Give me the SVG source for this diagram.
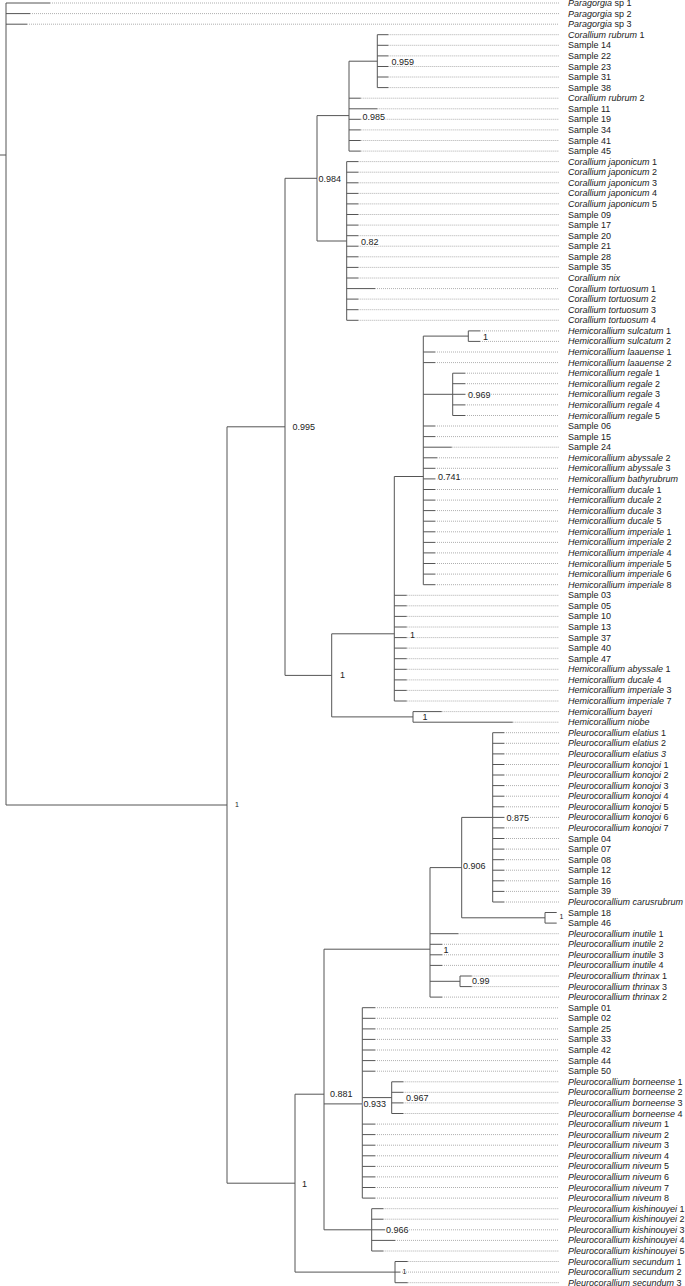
<svg xmlns="http://www.w3.org/2000/svg" width="685" height="1286" viewBox="0 0 685 1286">
<style>
.b{stroke:#555;stroke-width:1;fill:none}
.d{stroke:#9a9a9a;stroke-width:0.8;stroke-dasharray:1 1;fill:none}
text{font-family:"Liberation Sans",Arial,sans-serif;font-size:9px;fill:#222}
.i{font-style:italic}
.n{paint-order:stroke;stroke:#fff;stroke-width:2px;stroke-linejoin:round}
.s{font-size:7px}
</style>
<rect width="685" height="1286" fill="#fff"/>
<g id="connectors">
<path class="d" d="M50 3H559M30 13.6H559M27 24.2H559M388.3 34.7H559M388.3 45.3H559M388.3 55.9H559M388.3 66.5H559M388.3 77H559M388.3 87.6H559M360.7 98.2H559M377.3 108.8H559M360.7 119.3H559M360.7 129.9H559M360.7 140.5H559M360.7 151.1H559M358.3 161.6H559M358.3 172.2H559M358.3 182.8H559M358.3 193.4H559M358.3 203.9H559M358.3 214.5H559M358.3 225.1H559M358.3 235.7H559M358.3 246.2H559M358.3 256.8H559M358.3 267.4H559M358.3 278H559M375 288.6H559M358.3 299.1H559M358.3 309.7H559M358.3 320.3H559M480 330.9H559M480 341.4H559M435 352H559M435 362.6H559M465 373.2H559M465 383.7H559M465 394.3H559M465 404.9H559M465 415.5H559M435 426H559M435 436.6H559M451.7 447.2H559M437 457.8H559M435 468.3H559M435 478.9H559M435 489.5H559M435 500.1H559M435 510.6H559M435 521.2H559M435 531.8H559M435 542.4H559M435 552.9H559M435 563.5H559M435 574.1H559M435 584.7H559M406.7 595.3H559M406.7 605.8H559M406.7 616.4H559M406.7 627H559M406.7 637.6H559M406.7 648.1H559M406.7 658.7H559M406.7 669.3H559M406.7 679.9H559M406.7 690.4H559M406.7 701H559M441.7 711.6H559M512.7 722.2H559M504 732.7H559M504 743.3H559M504 753.9H559M504 764.5H559M504 775H559M504 785.6H559M504 796.2H559M504 806.8H559M504 817.4H559M504 827.9H559M504 838.5H559M504 849.1H559M504 859.7H559M504 870.2H559M504 880.8H559M504 891.4H559M504 902H559M458.3 933.7H559M442 944.3H559M442 954.8H559M442 965.4H559M471.7 976H559M471.7 986.6H559M442 997.1H559M375 1007.7H559M375 1018.3H559M375 1028.9H559M375 1039.4H559M375 1050H559M375 1060.6H559M375 1071.2H559M403.3 1081.8H559M403.3 1092.3H559M403.3 1102.9H559M403.3 1113.5H559M375 1124.1H559M375 1134.6H559M375 1145.2H559M375 1155.8H559M375 1166.4H559M375 1176.9H559M375 1187.5H559M375 1198.1H559M383.3 1208.7H559M383.3 1219.2H559M385 1229.8H559M395 1240.4H559M383.3 1251H559M407.7 1261.5H559M400 1272.1H559M407.7 1282.7H559"/>
<path class="b" d="M0 155H6M6 3V805M6 3H50M6 13.6H30M6 24.2H27M6 805H227
M227 426.8V1183.2M227 426.8H285M227 1183.2H295
M285 178.3V675.4M285 178.3H317M285 675.4H331.7
M317 115.6V241M317 115.6H349M317 241H346.7
M349 61.2V151.1M349 61.2H377.3M349 98.2H360.7M349 108.8H377.3M349 119.3H360.7M349 129.9H360.7M349 140.5H360.7M349 151.1H360.7
M377.3 34.7V87.6M377.3 34.7H388.3M377.3 45.3H388.3M377.3 55.9H388.3M377.3 66.5H388.3M377.3 77H388.3M377.3 87.6H388.3
M346.7 161.6V320.3M346.7 161.6H358.3M346.7 172.2H358.3M346.7 182.8H358.3M346.7 193.4H358.3M346.7 203.9H358.3M346.7 214.5H358.3M346.7 225.1H358.3M346.7 235.7H358.3M346.7 246.2H358.3M346.7 256.8H358.3M346.7 267.4H358.3M346.7 278H358.3M346.7 288.6H375M346.7 299.1H358.3M346.7 309.7H358.3M346.7 320.3H358.3
M331.7 633.8V716.9M331.7 633.8H394.3M331.7 716.9H413
M394.3 476.5V701M394.3 476.5H423.3M394.3 595.3H406.7M394.3 605.8H406.7M394.3 616.4H406.7M394.3 627H406.7M394.3 637.6H406.7M394.3 648.1H406.7M394.3 658.7H406.7M394.3 669.3H406.7M394.3 679.9H406.7M394.3 690.4H406.7M394.3 701H406.7
M423.3 336.1V584.7M423.3 336.1H468.3M423.3 394.3H452.7M423.3 352H435M423.3 362.6H435M423.3 426H435M423.3 436.6H435M423.3 447.2H451.7M423.3 457.8H437M423.3 468.3H435M423.3 478.9H435M423.3 489.5H435M423.3 500.1H435M423.3 510.6H435M423.3 521.2H435M423.3 531.8H435M423.3 542.4H435M423.3 552.9H435M423.3 563.5H435M423.3 574.1H435M423.3 584.7H435
M468.3 330.9V341.4M468.3 330.9H480M468.3 341.4H480
M452.7 373.2V415.5M452.7 373.2H465M452.7 383.7H465M452.7 394.3H465M452.7 404.9H465M452.7 415.5H465
M413 711.6V722.2M413 711.6H441.7M413 722.2H512.7
M295 1094.2V1272.1M295 1094.2H324M295 1272.1H395
M324 949.2V1229.8M324 949.2H430M324 1103.9H362.3M324 1229.8H371.7
M430 867.6V997.1M430 867.6H461.7M430 933.7H458.3M430 944.3H442M430 954.8H442M430 965.4H442M430 981.3H460M430 997.1H442
M461.7 817.4V917.8M461.7 817.4H492.7M461.7 917.8H545
M492.7 732.7V902M492.7 732.7H504M492.7 743.3H504M492.7 753.9H504M492.7 764.5H504M492.7 775H504M492.7 785.6H504M492.7 796.2H504M492.7 806.8H504M492.7 817.4H504M492.7 827.9H504M492.7 838.5H504M492.7 849.1H504M492.7 859.7H504M492.7 870.2H504M492.7 880.8H504M492.7 891.4H504M492.7 902H504
M545 912.5V923.1M545 912.5H556.7M545 923.1H556.7
M460 976V986.6M460 976H471.7M460 986.6H471.7
M362.3 1007.7V1198.1M362.3 1097.6H391.7M362.3 1007.7H375M362.3 1018.3H375M362.3 1028.9H375M362.3 1039.4H375M362.3 1050H375M362.3 1060.6H375M362.3 1071.2H375M362.3 1124.1H375M362.3 1134.6H375M362.3 1145.2H375M362.3 1155.8H375M362.3 1166.4H375M362.3 1176.9H375M362.3 1187.5H375M362.3 1198.1H375
M391.7 1081.8V1113.5M391.7 1081.8H403.3M391.7 1092.3H403.3M391.7 1102.9H403.3M391.7 1113.5H403.3
M371.7 1208.7V1251M371.7 1208.7H383.3M371.7 1219.2H383.3M371.7 1229.8H385M371.7 1240.4H395M371.7 1251H383.3
M395 1261.5V1282.7M395 1261.5H407.7M395 1272.1H400M395 1282.7H407.7"/>
</g>
<g id="support-labels">
<g id="node-root"><text class="s" x="235" y="806.5">1</text></g>
<g id="node-0995"><text class="n" x="292.5" y="430.2">0.995</text></g>
<g id="node-0984"><text class="n" x="318.5" y="181.5">0.984</text></g>
<g id="node-0985"><text class="n" x="362.5" y="119.7">0.985</text></g>
<g id="node-0959"><text class="n" x="391.5" y="65">0.959</text></g>
<g id="node-082"><text class="n" x="361" y="244.7">0.82</text></g>
<g id="node-hemi"><text class="n" x="340" y="678.2">1</text></g>
<g id="node-hemi-big"><text class="n" x="410" y="637.5">1</text></g>
<g id="node-0741"><text class="n" x="438" y="479.9">0.741</text></g>
<g id="node-sulcatum"><text class="n" x="483" y="339.7">1</text></g>
<g id="node-0969"><text class="n" x="468" y="397.5">0.969</text></g>
<g id="node-bayeri"><text class="n" x="422.5" y="720.2">1</text></g>
<g id="node-pleuro"><text class="n" x="302" y="1186.5">1</text></g>
<g id="node-0881"><text class="n" x="330" y="1096.7">0.881</text></g>
<g id="node-upper"><text class="n" x="443.5" y="952.5">1</text></g>
<g id="node-0906"><text class="n" x="463" y="869.2">0.906</text></g>
<g id="node-0875"><text class="n" x="506.5" y="820.9">0.875</text></g>
<g id="node-s18"><text class="s" x="559.5" y="919">1</text></g>
<g id="node-099"><text class="n" x="472" y="984.2">0.99</text></g>
<g id="node-0933"><text class="n" x="363.5" y="1107.2">0.933</text></g>
<g id="node-0967"><text class="n" x="406" y="1100.9">0.967</text></g>
<g id="node-0966"><text class="n" x="386" y="1233">0.966</text></g>
<g id="node-secundum"><text class="s" x="402.5" y="1273.5">1</text></g>
</g>
<g id="leaves">
<g id="leaf-000"><text x="568" y="6"><tspan class="i">Paragorgia</tspan> sp 1</text></g>
<g id="leaf-001"><text x="568" y="16.6"><tspan class="i">Paragorgia</tspan> sp 2</text></g>
<g id="leaf-002"><text x="568" y="27.2"><tspan class="i">Paragorgia</tspan> sp 3</text></g>
<g id="leaf-003"><text x="568" y="37.7"><tspan class="i">Corallium rubrum</tspan> 1</text></g>
<g id="leaf-004"><text x="568" y="48.3">Sample 14</text></g>
<g id="leaf-005"><text x="568" y="58.9">Sample 22</text></g>
<g id="leaf-006"><text x="568" y="69.5">Sample 23</text></g>
<g id="leaf-007"><text x="568" y="80">Sample 31</text></g>
<g id="leaf-008"><text x="568" y="90.6">Sample 38</text></g>
<g id="leaf-009"><text x="568" y="101.2"><tspan class="i">Corallium rubrum</tspan> 2</text></g>
<g id="leaf-010"><text x="568" y="111.8">Sample 11</text></g>
<g id="leaf-011"><text x="568" y="122.3">Sample 19</text></g>
<g id="leaf-012"><text x="568" y="132.9">Sample 34</text></g>
<g id="leaf-013"><text x="568" y="143.5">Sample 41</text></g>
<g id="leaf-014"><text x="568" y="154.1">Sample 45</text></g>
<g id="leaf-015"><text x="568" y="164.6"><tspan class="i">Corallium japonicum</tspan> 1</text></g>
<g id="leaf-016"><text x="568" y="175.2"><tspan class="i">Corallium japonicum</tspan> 2</text></g>
<g id="leaf-017"><text x="568" y="185.8"><tspan class="i">Corallium japonicum</tspan> 3</text></g>
<g id="leaf-018"><text x="568" y="196.4"><tspan class="i">Corallium japonicum</tspan> 4</text></g>
<g id="leaf-019"><text x="568" y="206.9"><tspan class="i">Corallium japonicum</tspan> 5</text></g>
<g id="leaf-020"><text x="568" y="217.5">Sample 09</text></g>
<g id="leaf-021"><text x="568" y="228.1">Sample 17</text></g>
<g id="leaf-022"><text x="568" y="238.7">Sample 20</text></g>
<g id="leaf-023"><text x="568" y="249.2">Sample 21</text></g>
<g id="leaf-024"><text x="568" y="259.8">Sample 28</text></g>
<g id="leaf-025"><text x="568" y="270.4">Sample 35</text></g>
<g id="leaf-026"><text x="568" y="281"><tspan class="i">Corallium nix</tspan></text></g>
<g id="leaf-027"><text x="568" y="291.6"><tspan class="i">Corallium tortuosum</tspan> 1</text></g>
<g id="leaf-028"><text x="568" y="302.1"><tspan class="i">Corallium tortuosum</tspan> 2</text></g>
<g id="leaf-029"><text x="568" y="312.7"><tspan class="i">Corallium tortuosum</tspan> 3</text></g>
<g id="leaf-030"><text x="568" y="323.3"><tspan class="i">Corallium tortuosum</tspan> 4</text></g>
<g id="leaf-031"><text x="568" y="333.9"><tspan class="i">Hemicorallium sulcatum</tspan> 1</text></g>
<g id="leaf-032"><text x="568" y="344.4"><tspan class="i">Hemicorallium sulcatum</tspan> 2</text></g>
<g id="leaf-033"><text x="568" y="355"><tspan class="i">Hemicorallium laauense</tspan> 1</text></g>
<g id="leaf-034"><text x="568" y="365.6"><tspan class="i">Hemicorallium laauense</tspan> 2</text></g>
<g id="leaf-035"><text x="568" y="376.2"><tspan class="i">Hemicorallium regale</tspan> 1</text></g>
<g id="leaf-036"><text x="568" y="386.7"><tspan class="i">Hemicorallium regale</tspan> 2</text></g>
<g id="leaf-037"><text x="568" y="397.3"><tspan class="i">Hemicorallium regale</tspan> 3</text></g>
<g id="leaf-038"><text x="568" y="407.9"><tspan class="i">Hemicorallium regale</tspan> 4</text></g>
<g id="leaf-039"><text x="568" y="418.5"><tspan class="i">Hemicorallium regale</tspan> 5</text></g>
<g id="leaf-040"><text x="568" y="429">Sample 06</text></g>
<g id="leaf-041"><text x="568" y="439.6">Sample 15</text></g>
<g id="leaf-042"><text x="568" y="450.2">Sample 24</text></g>
<g id="leaf-043"><text x="568" y="460.8"><tspan class="i">Hemicorallium abyssale</tspan> 2</text></g>
<g id="leaf-044"><text x="568" y="471.3"><tspan class="i">Hemicorallium abyssale</tspan> 3</text></g>
<g id="leaf-045"><text x="568" y="481.9"><tspan class="i">Hemicorallium bathyrubrum</tspan></text></g>
<g id="leaf-046"><text x="568" y="492.5"><tspan class="i">Hemicorallium ducale</tspan> 1</text></g>
<g id="leaf-047"><text x="568" y="503.1"><tspan class="i">Hemicorallium ducale</tspan> 2</text></g>
<g id="leaf-048"><text x="568" y="513.6"><tspan class="i">Hemicorallium ducale</tspan> 3</text></g>
<g id="leaf-049"><text x="568" y="524.2"><tspan class="i">Hemicorallium ducale</tspan> 5</text></g>
<g id="leaf-050"><text x="568" y="534.8"><tspan class="i">Hemicorallium imperiale</tspan> 1</text></g>
<g id="leaf-051"><text x="568" y="545.4"><tspan class="i">Hemicorallium imperiale</tspan> 2</text></g>
<g id="leaf-052"><text x="568" y="555.9"><tspan class="i">Hemicorallium imperiale</tspan> 4</text></g>
<g id="leaf-053"><text x="568" y="566.5"><tspan class="i">Hemicorallium imperiale</tspan> 5</text></g>
<g id="leaf-054"><text x="568" y="577.1"><tspan class="i">Hemicorallium imperiale</tspan> 6</text></g>
<g id="leaf-055"><text x="568" y="587.7"><tspan class="i">Hemicorallium imperiale</tspan> 8</text></g>
<g id="leaf-056"><text x="568" y="598.3">Sample 03</text></g>
<g id="leaf-057"><text x="568" y="608.8">Sample 05</text></g>
<g id="leaf-058"><text x="568" y="619.4">Sample 10</text></g>
<g id="leaf-059"><text x="568" y="630">Sample 13</text></g>
<g id="leaf-060"><text x="568" y="640.6">Sample 37</text></g>
<g id="leaf-061"><text x="568" y="651.1">Sample 40</text></g>
<g id="leaf-062"><text x="568" y="661.7">Sample 47</text></g>
<g id="leaf-063"><text x="568" y="672.3"><tspan class="i">Hemicorallium abyssale</tspan> 1</text></g>
<g id="leaf-064"><text x="568" y="682.9"><tspan class="i">Hemicorallium ducale</tspan> 4</text></g>
<g id="leaf-065"><text x="568" y="693.4"><tspan class="i">Hemicorallium imperiale</tspan> 3</text></g>
<g id="leaf-066"><text x="568" y="704"><tspan class="i">Hemicorallium imperiale</tspan> 7</text></g>
<g id="leaf-067"><text x="568" y="714.6"><tspan class="i">Hemicorallium bayeri</tspan></text></g>
<g id="leaf-068"><text x="568" y="725.2"><tspan class="i">Hemicorallium niobe</tspan></text></g>
<g id="leaf-069"><text x="568" y="735.7"><tspan class="i">Pleurocorallium elatius</tspan> 1</text></g>
<g id="leaf-070"><text x="568" y="746.3"><tspan class="i">Pleurocorallium elatius</tspan> 2</text></g>
<g id="leaf-071"><text x="568" y="756.9"><tspan class="i">Pleurocorallium elatius 3</tspan></text></g>
<g id="leaf-072"><text x="568" y="767.5"><tspan class="i">Pleurocorallium konojoi</tspan> 1</text></g>
<g id="leaf-073"><text x="568" y="778"><tspan class="i">Pleurocorallium konojoi</tspan> 2</text></g>
<g id="leaf-074"><text x="568" y="788.6"><tspan class="i">Pleurocorallium konojoi</tspan> 3</text></g>
<g id="leaf-075"><text x="568" y="799.2"><tspan class="i">Pleurocorallium konojoi</tspan> 4</text></g>
<g id="leaf-076"><text x="568" y="809.8"><tspan class="i">Pleurocorallium konojoi</tspan> 5</text></g>
<g id="leaf-077"><text x="568" y="820.4"><tspan class="i">Pleurocorallium konojoi</tspan> 6</text></g>
<g id="leaf-078"><text x="568" y="830.9"><tspan class="i">Pleurocorallium konojoi</tspan> 7</text></g>
<g id="leaf-079"><text x="568" y="841.5">Sample 04</text></g>
<g id="leaf-080"><text x="568" y="852.1">Sample 07</text></g>
<g id="leaf-081"><text x="568" y="862.7">Sample 08</text></g>
<g id="leaf-082"><text x="568" y="873.2">Sample 12</text></g>
<g id="leaf-083"><text x="568" y="883.8">Sample 16</text></g>
<g id="leaf-084"><text x="568" y="894.4">Sample 39</text></g>
<g id="leaf-085"><text x="568" y="905"><tspan class="i">Pleurocorallium carusrubrum</tspan></text></g>
<g id="leaf-086"><text x="568" y="915.5">Sample 18</text></g>
<g id="leaf-087"><text x="568" y="926.1">Sample 46</text></g>
<g id="leaf-088"><text x="568" y="936.7"><tspan class="i">Pleurocorallium inutile</tspan> 1</text></g>
<g id="leaf-089"><text x="568" y="947.3"><tspan class="i">Pleurocorallium inutile</tspan> 2</text></g>
<g id="leaf-090"><text x="568" y="957.8"><tspan class="i">Pleurocorallium inutile</tspan> 3</text></g>
<g id="leaf-091"><text x="568" y="968.4"><tspan class="i">Pleurocorallium inutile</tspan> 4</text></g>
<g id="leaf-092"><text x="568" y="979"><tspan class="i">Pleurocorallium thrinax</tspan> 1</text></g>
<g id="leaf-093"><text x="568" y="989.6"><tspan class="i">Pleurocorallium thrinax</tspan> 3</text></g>
<g id="leaf-094"><text x="568" y="1000.1"><tspan class="i">Pleurocorallium thrinax</tspan> 2</text></g>
<g id="leaf-095"><text x="568" y="1010.7">Sample 01</text></g>
<g id="leaf-096"><text x="568" y="1021.3">Sample 02</text></g>
<g id="leaf-097"><text x="568" y="1031.9">Sample 25</text></g>
<g id="leaf-098"><text x="568" y="1042.4">Sample 33</text></g>
<g id="leaf-099"><text x="568" y="1053">Sample 42</text></g>
<g id="leaf-100"><text x="568" y="1063.6">Sample 44</text></g>
<g id="leaf-101"><text x="568" y="1074.2">Sample 50</text></g>
<g id="leaf-102"><text x="568" y="1084.8"><tspan class="i">Pleurocorallium borneense</tspan> 1</text></g>
<g id="leaf-103"><text x="568" y="1095.3"><tspan class="i">Pleurocorallium borneense</tspan> 2</text></g>
<g id="leaf-104"><text x="568" y="1105.9"><tspan class="i">Pleurocorallium borneense</tspan> 3</text></g>
<g id="leaf-105"><text x="568" y="1116.5"><tspan class="i">Pleurocorallium borneense</tspan> 4</text></g>
<g id="leaf-106"><text x="568" y="1127.1"><tspan class="i">Pleurocorallium niveum</tspan> 1</text></g>
<g id="leaf-107"><text x="568" y="1137.6"><tspan class="i">Pleurocorallium niveum</tspan> 2</text></g>
<g id="leaf-108"><text x="568" y="1148.2"><tspan class="i">Pleurocorallium niveum</tspan> 3</text></g>
<g id="leaf-109"><text x="568" y="1158.8"><tspan class="i">Pleurocorallium niveum</tspan> 4</text></g>
<g id="leaf-110"><text x="568" y="1169.4"><tspan class="i">Pleurocorallium niveum</tspan> 5</text></g>
<g id="leaf-111"><text x="568" y="1179.9"><tspan class="i">Pleurocorallium niveum</tspan> 6</text></g>
<g id="leaf-112"><text x="568" y="1190.5"><tspan class="i">Pleurocorallium niveum</tspan> 7</text></g>
<g id="leaf-113"><text x="568" y="1201.1"><tspan class="i">Pleurocorallium niveum</tspan> 8</text></g>
<g id="leaf-114"><text x="568" y="1211.7"><tspan class="i">Pleurocorallium kishinouyei</tspan> 1</text></g>
<g id="leaf-115"><text x="568" y="1222.2"><tspan class="i">Pleurocorallium kishinouyei</tspan> 2</text></g>
<g id="leaf-116"><text x="568" y="1232.8"><tspan class="i">Pleurocorallium kishinouyei</tspan> 3</text></g>
<g id="leaf-117"><text x="568" y="1243.4"><tspan class="i">Pleurocorallium kishinouyei</tspan> 4</text></g>
<g id="leaf-118"><text x="568" y="1254"><tspan class="i">Pleurocorallium kishinouyei</tspan> 5</text></g>
<g id="leaf-119"><text x="568" y="1264.5"><tspan class="i">Pleurocorallium secundum</tspan> 1</text></g>
<g id="leaf-120"><text x="568" y="1275.1"><tspan class="i">Pleurocorallium secundum</tspan> 2</text></g>
<g id="leaf-121"><text x="568" y="1285.7"><tspan class="i">Pleurocorallium secundum</tspan> 3</text></g>
</g>
</svg>
